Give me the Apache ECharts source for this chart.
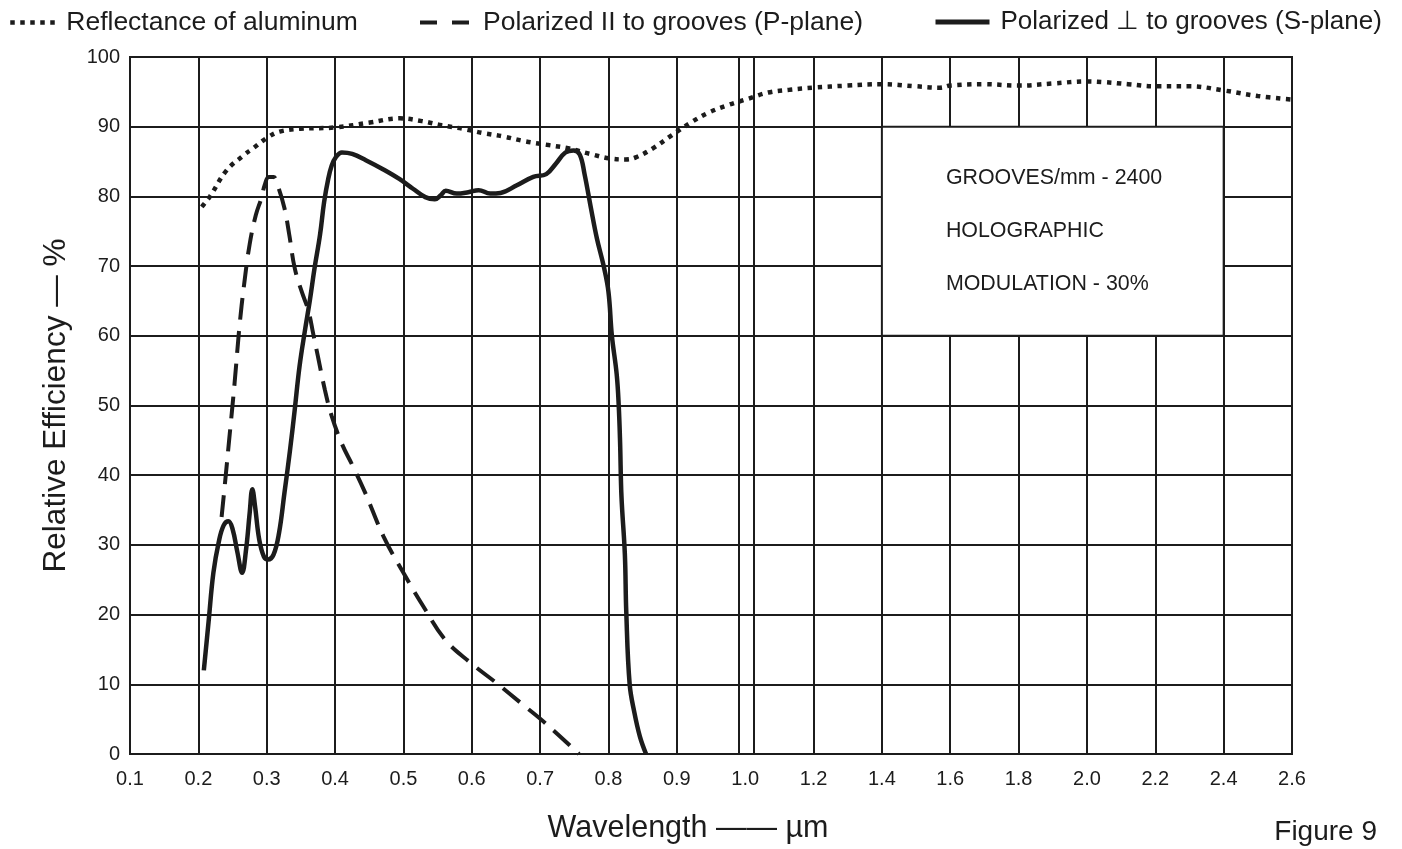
<!DOCTYPE html>
<html>
<head>
<meta charset="utf-8">
<title>Relative Efficiency vs Wavelength</title>
<script src="https://cdn.jsdelivr.net/npm/echarts@6/dist/echarts.min.js"></script>
<style>
  html, body { margin: 0; padding: 0; background: #fff; }
  #chart { width: 1402px; height: 849px; }
</style>
</head>
<body>
<div id="chart"></div>
<script>
// Tick labels of the wavelength axis (µm): 0.1 steps up to 1.0, then 0.2 steps.
const xTickLabels = ['0.1', '0.2', '0.3', '0.4', '0.5', '0.6', '0.7', '0.8', '0.9', '1.0',
                     '1.2', '1.4', '1.6', '1.8', '2.0', '2.2', '2.4', '2.6'];
const yTicks = [0, 10, 20, 30, 40, 50, 60, 70, 80, 90, 100];

const seriesNames = [
  'Reflectance of aluminum',
  'Polarized II to grooves (P-plane)',
  'Polarized \u22A5 to grooves (S-plane)'
];

// [wavelength µm, relative efficiency %]
const aluminum = [
  [0.205, 78.5], [0.217, 80.0], [0.241, 83.7], [0.265, 85.8], [0.280, 86.9], [0.302, 88.5],
  [0.319, 89.3], [0.349, 89.7], [0.401, 89.9], [0.451, 90.6], [0.495, 91.2], [0.527, 90.8],
  [0.556, 90.2], [0.587, 89.7], [0.616, 89.1], [0.646, 88.6], [0.678, 87.9], [0.710, 87.4],
  [0.741, 86.9], [0.773, 86.1], [0.805, 85.4], [0.825, 85.3], [0.840, 85.6], [0.865, 86.9],
  [0.893, 88.8], [0.919, 90.5], [0.946, 92.0], [0.975, 93.1], [1.008, 94.0], [1.067, 94.9],
  [1.130, 95.3], [1.200, 95.6], [1.300, 95.9], [1.400, 96.1], [1.500, 95.8], [1.570, 95.6],
  [1.600, 95.9], [1.700, 96.1], [1.800, 95.9], [1.900, 96.2], [2.000, 96.5], [2.050, 96.4],
  [2.120, 96.1], [2.200, 95.8], [2.300, 95.8], [2.400, 95.2], [2.500, 94.4], [2.600, 93.9]
];

const pPlane = [
  [0.234, 34.0], [0.239, 38.9], [0.245, 45.0], [0.253, 53.2], [0.260, 61.2], [0.267, 67.4],
  [0.275, 73.1], [0.284, 77.3], [0.292, 79.7], [0.297, 81.6], [0.303, 82.8], [0.310, 82.8],
  [0.316, 81.6], [0.326, 78.3], [0.333, 74.5], [0.341, 69.7], [0.351, 66.4], [0.361, 63.6],
  [0.368, 60.3], [0.375, 57.0], [0.385, 52.3], [0.395, 48.5], [0.410, 44.5], [0.425, 41.5],
  [0.444, 37.5], [0.471, 31.2], [0.500, 26.0], [0.529, 21.2], [0.561, 16.4], [0.598, 13.1],
  [0.636, 10.2], [0.672, 7.3], [0.708, 4.4], [0.757, 0.0]
];

const sPlane = [
  [0.208, 12.0], [0.215, 19.0], [0.222, 26.0], [0.230, 30.5], [0.237, 32.8], [0.244, 33.4],
  [0.250, 32.3], [0.257, 29.0], [0.264, 26.0], [0.270, 29.5], [0.275, 34.5], [0.279, 38.0],
  [0.283, 35.5], [0.289, 30.8], [0.296, 28.3], [0.302, 27.9], [0.310, 28.6], [0.318, 31.7],
  [0.326, 37.5], [0.334, 43.5], [0.341, 49.4], [0.348, 55.6], [0.356, 60.8], [0.363, 65.0],
  [0.370, 69.7], [0.378, 74.5], [0.384, 79.2], [0.390, 82.5], [0.395, 84.4], [0.401, 85.6],
  [0.410, 86.3], [0.425, 86.1], [0.445, 85.2], [0.470, 83.9], [0.494, 82.5], [0.514, 81.1],
  [0.532, 79.9], [0.546, 79.6], [0.555, 80.2], [0.562, 80.8], [0.578, 80.4], [0.595, 80.6],
  [0.610, 80.9], [0.627, 80.4], [0.642, 80.5], [0.666, 81.6], [0.690, 82.8], [0.709, 83.2],
  [0.723, 84.7], [0.737, 86.3], [0.749, 86.6], [0.758, 86.0], [0.765, 83.2], [0.774, 78.5],
  [0.783, 74.0], [0.793, 70.0], [0.800, 66.3], [0.805, 60.0], [0.812, 54.5], [0.815, 50.0],
  [0.817, 44.7], [0.819, 37.0], [0.824, 28.6], [0.826, 20.5], [0.831, 10.0], [0.838, 5.9],
  [0.846, 2.5], [0.855, 0.0]
];

const noteLines = ['GROOVES/mm - 2400', 'HOLOGRAPHIC', 'MODULATION - 30%'];

// The wavelength axis is piecewise linear: 0.1 µm per division below 1.0 µm,
// 0.2 µm per division above. Axis units are divisions counted from 0.1 µm.
function toAxis(w) {
  return w <= 1 ? (w - 0.1) / 0.1 : 9 + (w - 1) / 0.2;
}
const mapSeries = arr => arr.map(([w, v]) => [toAxis(w), v]);

const INK = '#1c1c1c';
const FONT = '"Liberation Sans", Arial, Helvetica, sans-serif';

// Vertical rules: one per division, with a doubled rule marking the scale change at 1.0 µm.
const verticalRules = [];
for (let i = 1; i < xTickLabels.length - 1; i++) {
  if (i === 9) {
    verticalRules.push({ xAxis: 8.91 }, { xAxis: 9.12 });
  } else {
    verticalRules.push({ xAxis: i });
  }
}

const chart = echarts.init(document.getElementById('chart'), null, { renderer: 'canvas' });

// One legend block per series; the marker dot of line icons is hidden.
function legendBlock(name, left, iconWidth, textPad, fontSize, lineStyle) {
  return {
    left: left,
    top: 9,
    padding: 0,
    itemWidth: iconWidth,
    itemHeight: 14,
    selectedMode: false,
    itemStyle: { color: 'transparent', borderColor: 'transparent', borderWidth: 0 },
    lineStyle: lineStyle,
    textStyle: {
      fontSize: fontSize, color: INK, fontFamily: FONT,
      padding: [0, 0, 0, textPad]
    },
    data: [name]
  };
}

chart.setOption({
  animation: false,
  backgroundColor: '#ffffff',
  textStyle: { fontFamily: FONT },
  grid: {
    left: 130, right: 110, top: 57, bottom: 94,
    show: true, borderColor: INK, borderWidth: 2, backgroundColor: 'transparent'
  },
  legend: [
    legendBlock(seriesNames[0], 8, 50, 1, 26.5, { width: 4.5 }),
    legendBlock(seriesNames[1], 418, 52, 6, 26.5, { width: 4, type: [17, 15] }),
    legendBlock(seriesNames[2], 933, 54, 6, 26, { width: 5 })
  ],
  xAxis: {
    type: 'value',
    min: 0,
    max: xTickLabels.length - 1,
    interval: 1,
    axisLine: { show: false },
    axisTick: { show: false },
    splitLine: { show: false },
    axisLabel: {
      margin: 15,
      fontSize: 20,
      color: INK,
      fontFamily: FONT,
      formatter: v => xTickLabels[Math.round(v)] || ''
    },
    name: 'Wavelength \u2014\u2014 \u00B5m',
    nameLocation: 'middle',
    nameGap: 59,
    nameTextStyle: { fontSize: 30.5, color: INK, fontFamily: FONT, padding: [0, 46, 0, 0] }
  },
  yAxis: {
    type: 'value',
    min: yTicks[0],
    max: yTicks[yTicks.length - 1],
    interval: yTicks[1] - yTicks[0],
    axisLine: { show: false },
    axisTick: { show: false },
    splitLine: { show: true, lineStyle: { color: INK, width: 2 } },
    axisLabel: { margin: 10, fontSize: 20, color: INK, fontFamily: FONT },
    name: 'Relative Efficiency \u2014 %',
    nameLocation: 'middle',
    nameRotate: 90,
    nameGap: 58,
    nameTextStyle: { fontSize: 31.5, color: INK, fontFamily: FONT }
  },
  graphic: [{
    type: 'text',
    right: 25,
    top: 818,
    style: { text: 'Figure 9', fontSize: 28, fill: INK, fontFamily: FONT }
  }],
  series: [
    {
      // grid rules and the annotation box
      type: 'line',
      data: [],
      silent: true,
      z: 1,
      markLine: {
        z: 1,
        silent: true,
        symbol: ['none', 'none'],
        label: { show: false },
        lineStyle: { color: INK, width: 2, type: 'solid' },
        emphasis: { disabled: true },
        data: verticalRules
      },
      markArea: {
        z: 2,
        silent: true,
        itemStyle: { color: '#ffffff', borderColor: INK, borderWidth: 2 },
        label: {
          show: true,
          position: 'insideLeft',
          distance: 65,
          align: 'left',
          fontSize: 21.4,
          lineHeight: 53,
          color: INK,
          fontFamily: FONT,
          formatter: () => noteLines.join('\n')
        },
        emphasis: { disabled: true },
        data: [[
          { xAxis: toAxis(1.4), yAxis: 90 },
          { xAxis: toAxis(2.4), yAxis: 60 }
        ]]
      }
    },
    {
      name: seriesNames[0],
      type: 'line',
      z: 4,
      data: mapSeries(aluminum),
      smooth: 0.4,
      symbol: 'none',
      lineStyle: { color: INK, width: 4.5, type: [4.5, 5.5], cap: 'butt' },
      itemStyle: { color: INK }
    },
    {
      name: seriesNames[1],
      type: 'line',
      z: 4,
      data: mapSeries(pPlane),
      smooth: 0.4,
      symbol: 'none',
      lineStyle: { color: INK, width: 4, type: [22, 11], cap: 'butt' },
      itemStyle: { color: INK }
    },
    {
      name: seriesNames[2],
      type: 'line',
      z: 4,
      data: mapSeries(sPlane),
      smooth: 0.4,
      symbol: 'none',
      lineStyle: { color: INK, width: 4.5, type: 'solid', join: 'round' },
      itemStyle: { color: INK }
    }
  ]
});
</script>
</body>
</html>
